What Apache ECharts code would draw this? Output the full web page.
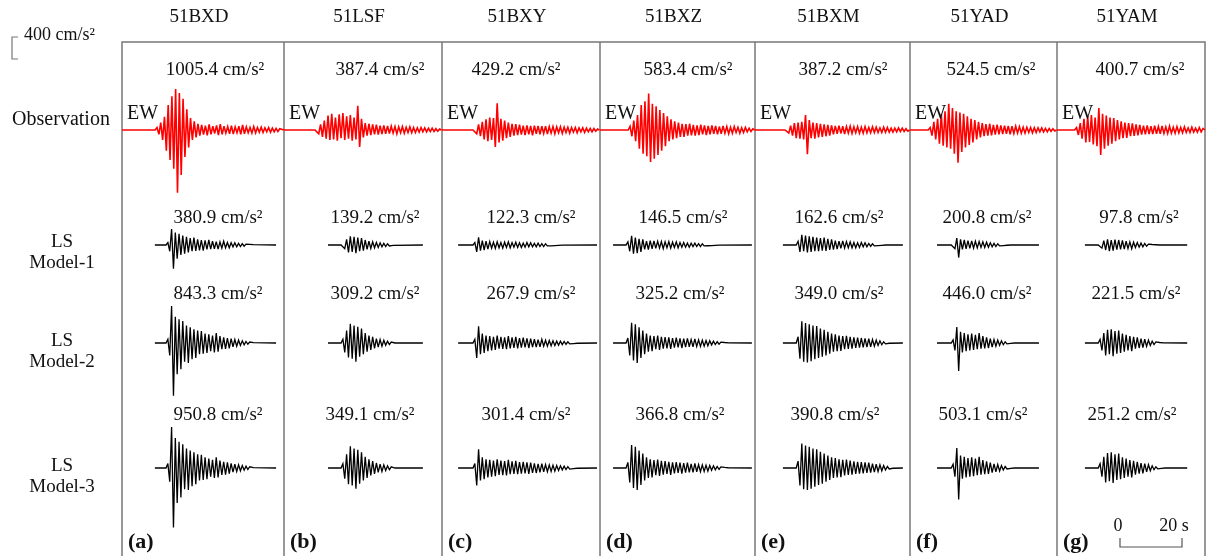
<!DOCTYPE html>
<html lang="en">
<head>
    <meta charset="UTF-8">
    <title>LS model records</title>
    <style>
        * { margin: 0; }
        html, body, #chart { width: 100%; height: 100%; background: #fff; }
    </style>
</head>
<body>
    <div id="chart"></div>
    <script src="https://cdn.jsdelivr.net/npm/echarts@6/dist/echarts.min.js"></script>
    <script>
        // ---- data ----
        var stations = ['51BXD', '51LSF', '51BXY', '51BXZ', '51BXM', '51YAD', '51YAM'];
        var panelTags = ['(a)', '(b)', '(c)', '(d)', '(e)', '(f)', '(g)'];
        var rowNames = ['Observation', 'LS\nModel-1', 'LS\nModel-2', 'LS\nModel-3'];
        var pgaObs = [1005.4, 387.4, 429.2, 583.4, 387.2, 524.5, 400.7];
        var pgaM1 = [380.9, 139.2, 122.3, 146.5, 162.6, 200.8, 97.8];
        var pgaM2 = [843.3, 309.2, 267.9, 325.2, 349.0, 446.0, 221.5];
        var pgaM3 = [950.8, 349.1, 301.4, 366.8, 390.8, 503.1, 251.2];

        var dt = 0.6; // s between samples
        // onset of the observed records (s from panel left)
        var obsOnset = [11.3, 10.6, 10.6, 9.7, 10.3, 6.5, 6.3];
        // model records: [baseline start, onset, baseline end] in s
        var modelWin = [[10.6, 14.8, 49.7], [14.2, 19.0, 44.8], [5.2, 10.6, 50.0], [4.2, 9.0, 49.0],
                        [9.0, 13.9, 47.7], [8.7, 13.9, 41.6], [9.0, 13.9, 42.0]];

        // observed EW accelerations, cm/s2
        var obs = [
            [40, -70, 120, -160, 210, -330, 400, -480, 540, -620, 656, -1005, 590, -720, 500, -430, 330, -280, 190, -160, 140, -120, 100,
             -90, 80, -75, 70, -85, 90, -70, 60, -55, 75, -80, 95, -70, 60, -50, 55, -60, 70, -65, 50, -45, 60, -70, 80, -60, 50, -45, 40, -50,
             55, -45, 40, -35, 45, -40, 35, -30, 40, -35, 30, -30, 25, -25, 20],
            [30, -60, 90, -110, 150, -140, 230, -160, 260, -150, 200, -170, 250, -130, 270, -160, 220, -140, 240, -170, 200, -150, 387, -270, 180,
             -120, 110, -90, 100, -80, 90, -70, 85, -75, 70, -65, 75, -60, 65, -55, 60, -50, 55, -60, 50, -45, 55, -50, 45, -40, 50, -45, 40, -40,
             35, -35, 40, -30, 35, -30, 30, -25, 30, -25, 20, -20, 15],
            [30, -60, 90, -100, 130, -150, 170, -180, 200, -160, 190, -270, 429, -200, 180, -170, 150, -130, 120, -110, 100, -90, 95, -80, 85,
             -75, 70, -80, 75, -70, 65, -85, 70, -60, 65, -70, 60, -55, 60, -65, 55, -50, 55, -60, 50, -45, 50, -55, 45, -40, 45, -50, 40, -35,
             40, -45, 35, -30, 35, -40, 30, -30, 25, -30, 25, -20, 15],
            [60, -100, 150, -180, 240, -300, 400, -380, 460, -420, 583, -510, 420, -460, 380, -400, 320, -330, 270, -260, 220, -180, 170, -150,
             140, -130, 120, -110, 100, -110, 95, -90, 100, -85, 80, -90, 75, -80, 85, -70, 75, -80, 65, -70, 75, -60, 65, -70, 55, -60, 65,
             -50, 55, -60, 45, -50, 55, -40, 45, -50, 35, -40, 40, -30, 30, -25, 20],
            [30, -50, 70, -90, 110, -130, 120, -140, 130, -150, 240, -387, 160, -130, 120, -140, 110, -120, 100, -110, 90, -100, 80, -90, 75,
             -70, 65, -60, 70, -55, 60, -65, 55, -50, 60, -55, 50, -45, 55, -50, 45, -50, 55, -45, 40, -45, 50, -40, 45, -40, 35, -40, 45, -35,
             40, -35, 30, -35, 30, -30, 35, -25, 30, -25, 20, -20],
            [40, -90, 130, -150, 180, -220, 260, -250, 300, -280, 420, -300, 350, -380, 300, -524, 280, -350, 260, -280, 220, -240, 180, -200,
             160, -150, 130, -120, 110, -100, 95, -90, 100, -85, 80, -75, 85, -70, 75, -65, 70, -60, 65, -70, 60, -55, 60, -50, 55, -50, 45,
             -50, 45, -40, 40, -45, 35, -40, 35, -30, 35, -30, 25, -30, 25, -20, 20, -15],
            [40, -80, 110, -140, 180, -200, 220, -190, 240, -230, 200, -260, 350, -400, 260, -300, 230, -250, 200, -220, 190, -180, 160, -150,
             140, -130, 120, -125, 110, -100, 105, -95, 90, -85, 80, -75, 70, -70, 75, -65, 60, -65, 70, -60, 55, -60, 65, -55, 50, -55, 60,
             -50, 45, -50, 55, -45, 40, -45, 50, -40, 35, -40, 45, -35, 30, -35, 40, -30, 25]
        ];
        // LS Model-1
        var m1 = [
            [40, -100, 256, -381, 200, -220, 180, -160, 150, -140, 130, -120, 110, -100, 120, -95, 90, -85, 80, -90, 75, -70, 80, -65, 60, -60,
             55, -65, 50, -50, 60, -45, 40, -45, 35, -30, 35, -30, 25, -25, 20, -20, 15, -15, 10, -10, 5],
            [30, -60, 90, -120, 139, -110, 130, -130, 120, -100, 110, -90, 80, -70, 60, -55, 50, -45, 40, -40, 35, -30, 25, -25, 20, -15, 10, -5],
            [40, -110, 122, -90, 70, -80, 60, -65, 55, -50, 45, -55, 50, -45, 40, -50, 45, -40, 50, -45, 40, -35, 45, -40, 35, -40, 30, -35, 40,
             -30, 35, -30, 25, -30, 30, -25, 20, -25, 20, -15, 15, -15, 10, -10, 8, -6, 5, -3],
            [50, -100, 146, -140, 120, -130, 100, -110, 90, -70, 60, -75, 70, -60, 65, -55, 60, -50, 55, -60, 50, -45, 55, -50, 45, -40, 50, -45,
             40, -35, 40, -35, 30, -35, 30, -25, 30, -25, 20, -25, 20, -15, 15, -12, 10, -10, 8, -6, 5, -3],
            [60, -110, 162, -100, 150, -120, 140, -110, 130, -100, 120, -100, 110, -90, 120, -95, 100, -80, 90, -75, 70, -65, 60, -55, 65, -50,
             55, -45, 50, -45, 40, -45, 35, -40, 40, -30, 35, -30, 25, -20, 20, -15, 15, -10, 8, -5, 3],
            [30, -60, 110, -201, 90, -70, 80, -60, 70, -55, 65, -50, 60, -45, 55, -40, 50, -40, 45, -35, 35, -30, 25, -25, 20, -15, 12, -10, 6, -4, 2],
            [30, -50, 70, -80, 90, -98, 80, -90, 85, -75, 80, -70, 75, -65, 60, -55, 50, -60, 45, -40, 40, -35, 30, -30, 25, -20, 15, -12, 8, -6, 4, -2]
        ];
        // LS Model-2
        var m2 = [
            [60, -200, 590, -843, 420, -500, 380, -420, 350, -300, 280, -320, 250, -260, 220, -240, 200, -180, 190, -170, 150, -160, 140, -130,
             120, -150, 160, -140, 110, -100, 90, -95, 80, -85, 70, -60, 55, -50, 45, -40, 35, -30, 25, -20, 15, -10, 5],
            [60, -150, 200, -230, 309, -250, 280, -300, 260, -220, 230, -180, 160, -140, 120, -110, 100, -85, 70, -65, 55, -50, 45, -35, 30, -25, 15, -8],
            [60, -240, 268, -180, 150, -160, 120, -130, 110, -120, 100, -110, 120, -90, 100, -95, 90, -100, 110, -85, 90, -80, 100, -85, 80, -75,
             85, -70, 75, -80, 70, -65, 60, -65, 55, -60, 60, -50, 45, -50, 40, -45, 35, -40, 30, -35, 30, -25, 25, -20, 20, -15, 12, -10, 6, -4],
            [80, -200, 325, -280, 300, -320, 250, -240, 200, -180, 150, -140, 120, -130, 110, -100, 120, -110, 100, -90, 95, -85, 90, -95, 80, -75,
             85, -70, 75, -80, 70, -65, 75, -60, 55, -60, 65, -55, 50, -55, 45, -50, 40, -45, 35, -30, 30, -25, 20, -20, 15, -12, 8, -6, 3],
            [100, -250, 349, -300, 320, -310, 300, -290, 280, -260, 270, -240, 230, -220, 210, -200, 180, -170, 150, -140, 140, -130, 120, -125,
             110, -100, 115, -95, 100, -90, 90, -80, 85, -75, 80, -70, 75, -65, 70, -60, 55, -50, 45, -40, 35, -28, 20, -14, 8, -4],
            [50, -120, 256, -446, 180, -150, 160, -130, 140, -120, 150, -110, 130, -100, 160, -90, 110, -85, 90, -80, 70, -65, 55, -50, 45, -40,
             35, -28, 20, -14, 8, -6, 3],
            [60, -120, 160, -200, 210, -180, 221, -210, 190, -170, 200, -160, 150, -140, 130, -120, 110, -130, 100, -90, 90, -80, 70, -75, 60, -55,
             45, -40, 30, -25, 18, -12, 8, -5, 3]
        ];
        // LS Model-3
        var m3 = [
            [70, -220, 656, -951, 480, -560, 420, -470, 380, -340, 310, -350, 280, -290, 250, -260, 220, -200, 210, -190, 170, -180, 150, -140,
             130, -160, 170, -150, 120, -110, 100, -105, 90, -90, 75, -65, 60, -55, 50, -45, 40, -35, 30, -25, 20, -12, 6],
            [70, -170, 220, -260, 349, -280, 310, -330, 290, -250, 250, -200, 180, -160, 140, -120, 110, -95, 80, -70, 60, -55, 50, -40, 35, -28, 18, -9],
            [70, -280, 301, -200, 170, -180, 140, -150, 130, -140, 120, -130, 140, -110, 120, -115, 110, -120, 130, -100, 105, -95, 115, -100, 95,
             -90, 100, -85, 90, -95, 85, -80, 75, -80, 65, -70, 70, -60, 55, -60, 50, -55, 45, -50, 40, -40, 35, -30, 30, -25, 22, -18, 14, -10, 6, -4],
            [90, -230, 366, -320, 340, -350, 280, -270, 230, -200, 170, -160, 140, -150, 125, -115, 135, -125, 115, -105, 110, -95, 100, -110, 90,
             -85, 95, -80, 85, -90, 80, -75, 85, -70, 65, -70, 75, -60, 55, -60, 50, -55, 45, -50, 40, -35, 35, -30, 25, -22, 18, -14, 10, -7, 4],
            [110, -280, 391, -340, 360, -350, 340, -330, 310, -300, 300, -270, 260, -250, 230, -220, 200, -190, 170, -160, 160, -150, 140, -145,
             130, -120, 135, -110, 120, -105, 105, -95, 100, -90, 95, -85, 90, -80, 85, -75, 70, -65, 60, -55, 50, -45, 40, -32, 24, -16, 8, -4],
            [60, -140, 320, -503, 200, -170, 180, -150, 160, -140, 170, -130, 150, -115, 180, -105, 125, -100, 105, -95, 85, -75, 65, -60, 55, -48,
             40, -32, 24, -16, 10, -6, 3],
            [70, -140, 180, -230, 240, -210, 251, -240, 220, -190, 230, -180, 170, -160, 150, -140, 125, -150, 115, -105, 100, -90, 80, -85, 70,
             -62, 52, -45, 35, -28, 20, -14, 9, -5, 3]
        ];

        // ---- layout ----
        var colEdges = [122, 284, 442, 600, 755, 910, 1057, 1205];
        var rowBase = [130, 245, 343, 468];
        var secPx = 3.1;      // px per second (20 s bar ~ 62 px)
        var halfH = 70;       // half height of a trace grid, px
        var ampMax = 1120;    // cm/s2 at halfH
        var obsLabelX = [215, 380, 516, 688, 843, 991, 1140];
        var m1LabelX = [218, 375, 531, 683, 839, 987, 1139];
        var m2LabelX = [218, 375, 531, 680, 839, 987, 1136];
        var m3LabelX = [218, 370, 526, 680, 835, 983, 1132];
        var labelY = [70, 218, 294, 415];
        var serif = '"Liberation Serif", "DejaVu Serif", serif';

        var chart = echarts.init(document.getElementById('chart'));
        var grids = [], xAxes = [], yAxes = [], series = [];

        function addTrace(col, row, win, vals, color, lw) {
            var idx = grids.length;
            var w = colEdges[col + 1] - colEdges[col];
            grids.push({ left: colEdges[col], top: rowBase[row] - halfH, width: w, height: 2 * halfH });
            xAxes.push({ type: 'value', gridIndex: idx, min: 0, max: w / secPx, show: false });
            yAxes.push({ type: 'value', gridIndex: idx, min: -ampMax, max: ampMax, show: false });
            var end = win[2] == null ? w / secPx : win[2];
            var data = [[win[0], 0], [win[1] - dt, 0]];
            vals.forEach(function (v, i) { data.push([win[1] + i * dt, v]); });
            data.push([win[1] + vals.length * dt, 0], [end, 0]);
            series.push({
                type: 'line', xAxisIndex: idx, yAxisIndex: idx, data: data, symbol: 'none',
                silent: true, lineStyle: { color: color, width: lw, join: 'miter', miterLimit: 4 }
            });
        }

        for (var c = 0; c < stations.length; c++) {
            addTrace(c, 0, [0, obsOnset[c], null], obs[c], '#ff0000', 1.6);
            addTrace(c, 1, modelWin[c], m1[c], '#000', 1.3);
            addTrace(c, 2, modelWin[c], m2[c], '#000', 1.3);
            addTrace(c, 3, modelWin[c], m3[c], '#000', 1.3);
        }

        function txt(x, y, s, size, extra) {
            var st = { text: s, font: size + 'px ' + serif, fill: '#111', textAlign: 'center', textVerticalAlign: 'middle' };
            if (extra) for (var k in extra) st[k] = extra[k];
            return { type: 'text', x: x, y: y, silent: true, style: st, z: 10 };
        }
        function pga(v) { return v.toFixed(1) + ' cm/s²'; }

        var g = [];
        // panel frame
        g.push({ type: 'rect', shape: { x: colEdges[0], y: 42, width: colEdges[7] - colEdges[0], height: 530 },
                 style: { fill: 'none', stroke: '#777', lineWidth: 1.5 }, silent: true });
        for (var c = 1; c < 7; c++) {
            g.push({ type: 'line', shape: { x1: colEdges[c], y1: 42, x2: colEdges[c], y2: 560 },
                     style: { stroke: '#777', lineWidth: 1.5 }, silent: true });
        }
        for (var c = 0; c < stations.length; c++) {
            var cx = (colEdges[c] + colEdges[c + 1]) / 2;
            g.push(txt(cx - 4, 17, stations[c], 19));
            g.push(txt(obsLabelX[c], labelY[0], pga(pgaObs[c]), 19));
            g.push(txt(m1LabelX[c], labelY[1], pga(pgaM1[c]), 19));
            g.push(txt(m2LabelX[c], labelY[2], pga(pgaM2[c]), 19));
            g.push(txt(m3LabelX[c], labelY[3], pga(pgaM3[c]), 19));
            g.push(txt(colEdges[c] + 5, 114, 'EW', 20, { textAlign: 'left' }));
            g.push(txt(colEdges[c] + 6, 542, panelTags[c], 22, { textAlign: 'left', font: 'bold 22px ' + serif }));
        }
        // row names
        g.push(txt(61, 120, rowNames[0], 20));
        g.push(txt(62, 253, rowNames[1], 19, { lineHeight: 21 }));
        g.push(txt(62, 352, rowNames[2], 19, { lineHeight: 21 }));
        g.push(txt(62, 477, rowNames[3], 19, { lineHeight: 21 }));
        // amplitude scale
        g.push({ type: 'polyline', shape: { points: [[18, 37], [12, 37], [12, 59], [18, 59]] },
                 style: { stroke: '#777', lineWidth: 1.2, fill: 'none' }, silent: true });
        g.push(txt(24, 35, '400 cm/s²', 18, { textAlign: 'left' }));
        // time scale
        g.push({ type: 'polyline', shape: { points: [[1120, 538], [1120, 547], [1120 + 20 * secPx, 547], [1120 + 20 * secPx, 538]] },
                 style: { stroke: '#555', lineWidth: 1.2, fill: 'none' }, silent: true });
        g.push(txt(1118, 526, '0', 18));
        g.push(txt(1174, 526, '20 s', 18));

        chart.setOption({
            animation: false,
            backgroundColor: '#fff',
            grid: grids,
            xAxis: xAxes,
            yAxis: yAxes,
            series: series,
            graphic: g
        });
    </script>
</body>
</html>
